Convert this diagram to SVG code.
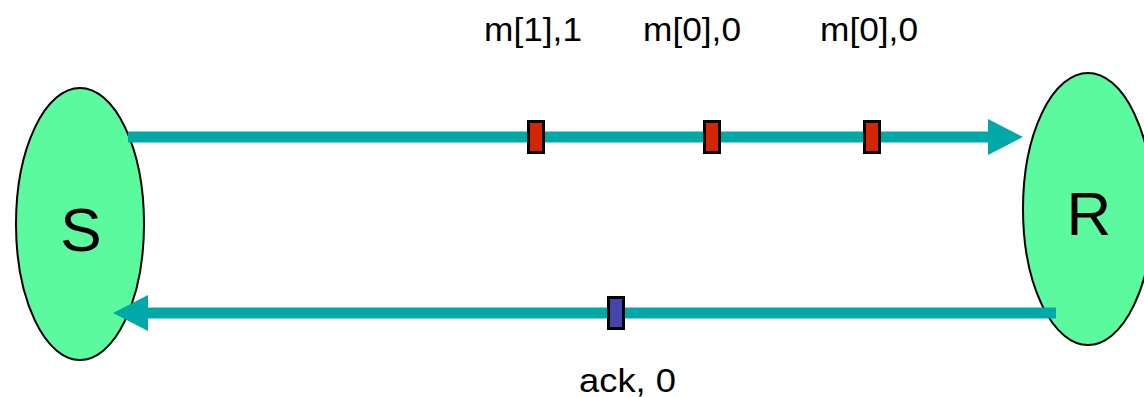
<svg xmlns="http://www.w3.org/2000/svg" width="1144" height="397" viewBox="0 0 1144 397">
  <style>
    .node { fill: #5cfa9f; stroke: #000; stroke-width: 2; }
    .name { font-family: "Liberation Sans", Arial, sans-serif; font-size: 62px; fill: #000; text-anchor: middle; }
    .label { font-family: "Liberation Sans", Arial, sans-serif; font-size: 33px; fill: #000; }
    .link { stroke: #00a8a8; stroke-width: 11; fill: none; }
    .msg { fill: #d42400; stroke: #000; stroke-width: 3; }
    .ack { fill: #4444aa; stroke: #000; stroke-width: 3; }
    .head { fill: #00a8a8; }
  </style>

  <!-- sender -->
  <g id="sender">
    <ellipse class="node" cx="80" cy="224" rx="64" ry="136"/>
    <text class="name" x="81" y="251">S</text>
  </g>

  <!-- receiver -->
  <g id="receiver">
    <ellipse class="node" cx="1088" cy="209" rx="65" ry="136"/>
    <text class="name" x="1089" y="235">R</text>
  </g>

  <!-- channels -->
  <g id="connectors">
    <line class="link" x1="128" y1="137" x2="990" y2="137"/>
    <polygon class="head" points="988,119 1023,137 988,155"/>
    <line class="link" x1="1056" y1="313" x2="146" y2="313"/>
    <polygon class="head" points="148,295 113,313 148,331"/>
  </g>

  <!-- packets in transit -->
  <g id="packets">
    <rect class="msg" x="528.5" y="121.5" width="15" height="31"/>
    <rect class="msg" x="704.5" y="121.5" width="15" height="31"/>
    <rect class="msg" x="864.5" y="121.5" width="15" height="31"/>
    <rect class="ack" x="608.5" y="297.5" width="15" height="31"/>
  </g>

  <g id="labels">
    <text class="label" x="484" y="41" textLength="98" lengthAdjust="spacingAndGlyphs">m[1],1</text>
    <text class="label" x="643" y="41" textLength="98" lengthAdjust="spacingAndGlyphs">m[0],0</text>
    <text class="label" x="820" y="41" textLength="98" lengthAdjust="spacingAndGlyphs">m[0],0</text>
    <text class="label" x="579" y="392" textLength="97" lengthAdjust="spacingAndGlyphs">ack, 0</text>
  </g>
</svg>
